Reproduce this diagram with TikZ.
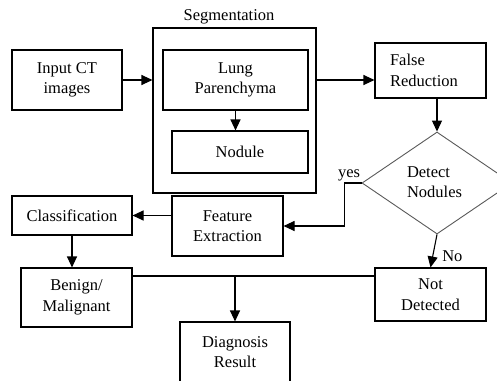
\documentclass[tikz,border=0pt]{standalone}
\usepackage{fontspec}
\setmainfont{Liberation Serif}
\usetikzlibrary{calc}
\usetikzlibrary{shapes,arrows.meta}
\tikzstyle{bx}=[rectangle, draw, align=center, inner sep=0pt, line width=1.1pt, font=\fontsize{16.5}{20.5}\selectfont]
\tikzstyle{dm}=[diamond, draw=black!65, inner sep=0pt, line width=0.9pt]
\tikzstyle{lbl}=[inner sep=1pt, font=\fontsize{16.5}{20.5}\selectfont]

\begin{document}
\begin{tikzpicture}[x=1pt, y=-1pt, >={Triangle[length=11pt,width=10pt]}, line width=1.1pt]
\useasboundingbox (0,0) rectangle (497,380);
%\draw[help lines] (0,0) grid[step=20] (497,380);
\node[bx, minimum width=110, minimum height=60] (inp) at (67,80) {Input CT\\images};
\node[bx, minimum width=163, minimum height=165] (seg) at (234.5,110.5) {};
\node[lbl] (segt) at (229,17) {Segmentation};
\node[bx, minimum width=145, minimum height=60] (lung) at (235.5,80) {Lung\\Parenchyma};
\node[bx, minimum width=136, minimum height=42] (nod) at (240,152) {Nodule};
\node[bx, minimum width=111, minimum height=55, text width=81, inner xsep=15, align=left] (fr) at (430.5,70.5) {False\\Reduction};
\node[dm, minimum width=150, minimum height=102] (det) at (437,183) {};
\node[lbl, text width=60, align=left] (dett) at (437,182) {Detect\\Nodules};
\node[bx, minimum width=111, minimum height=60] (fe) at (227.5,226) {Feature\\Extraction};
\node[bx, minimum width=120, minimum height=39] (cls) at (72,215.5) {Classification};
\node[bx, minimum width=111, minimum height=59] (bm) at (76.5,297.5) {Benign/\\Malignant};
\node[bx, minimum width=110, minimum height=60] (diag) at (235,352) {Diagnosis\\Result};
\node[bx, minimum width=111, minimum height=53] (nd) at (430.5,294.5) {Not\\Detected};
\coordinate (j) at (235,276);

\draw [->] (inp.east) -- (inp.east -| seg.west);
\draw [->] (lung.south) -- (lung.south |- nod.north);
\draw [->] (seg.east |- lung) -- (fr.west |- lung);
\draw [->] (fr.south -| det.north) -- (det.north);
\draw [->] (det.west) -- ++(-17,0) |- (fe.east);
\node[lbl, above left] (yes) at (det.west) {yes};
\draw [->] (fe.west |- cls) -- (cls.east);
\draw [->] (cls.south) -- (cls.south |- bm.north);
\draw [->] (det.south) -- node[lbl, pos=0.65, right=8pt] (no) {No} (nd.north);
\draw (bm.east |- j) -- (nd.west |- j);
\draw [->] (j) -- (diag.north);
\end{tikzpicture}
\end{document}
